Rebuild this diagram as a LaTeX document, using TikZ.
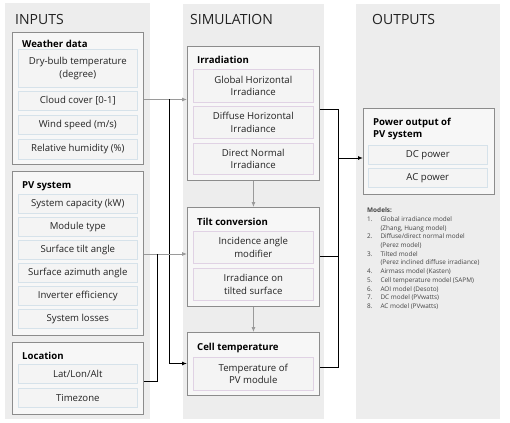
\documentclass[tikz,border=0pt]{standalone}
\usepackage{fontspec}
\setmainfont{Open Sans}
\usetikzlibrary{arrows.meta,calc}
\definecolor{panelbg}{HTML}{EDEDED}
\definecolor{boxline}{HTML}{8C8C8C}
\definecolor{boxfill}{HTML}{F7F7F7}
\definecolor{subin}{HTML}{D6E2EA}
\definecolor{subsim}{HTML}{E0D2E4}
\definecolor{subfill}{HTML}{F4F4F4}
\definecolor{grayline}{HTML}{9A9A9A}
\definecolor{txt}{HTML}{222222}
\definecolor{modtxt}{HTML}{444444}
\begin{document}
\begin{tikzpicture}[x=1pt,y=-1pt,
  panel/.style={fill=panelbg,draw=none},
  bigbox/.style={draw=boxline,fill=boxfill,line width=0.9pt,inner sep=0pt,anchor=north west},
  subbox/.style={draw=#1,fill=subfill,line width=0.6pt,inner sep=0pt,anchor=north west,
     align=center,font=\fontsize{9.6}{12.5}\selectfont,text=txt},
  lbl/.style={anchor=base west,inner sep=0pt,font=\fontsize{9.6}{11}\selectfont\bfseries,text=black},
  ttl/.style={anchor=base west,inner sep=0pt,font=\fontsize{14}{16}\selectfont,text=txt},
  grayarr/.style={draw=grayline,line width=0.8pt,-{Latex[length=5pt,width=4pt]}},
  blkline/.style={draw=black,line width=1pt},
  blkarr/.style={draw=black,line width=1pt,-{Latex[length=5pt,width=4pt]}}
]
\useasboundingbox[fill=white] (0,0) rectangle (510,422);
% panels
\fill[panel] (5,3) rectangle (150,419);
\fill[panel] (183,4) rectangle (324,419);
\fill[panel] (356,4) rectangle (500,419);
\node[ttl] (tin) at (15,25) {INPUTS};
\node[ttl] (tsim) at (190,25) {SIMULATION};
\node[ttl] (tout) at (372,25) {OUTPUTS};

% ---------- INPUTS ----------
\node[bigbox,minimum width=131pt,minimum height=132pt] (weather) at (12,32) {};
\node[lbl] (lw) at (22,48) {Weather data};
\node[subbox=subin,minimum width=119pt,minimum height=38pt] (dry) at (18,49) {Dry-bulb temperature\\(degree)};
\node[subbox=subin,minimum width=119pt,minimum height=19pt] (cloud) at (18,91) {Cloud cover [0-1]};
\node[subbox=subin,minimum width=119pt,minimum height=19pt] (wind) at (18,115) {Wind speed (m/s)};
\node[subbox=subin,minimum width=119pt,minimum height=20pt] (rh) at (18,139) {Relative humidity (\%)};

\node[bigbox,minimum width=131pt,minimum height=164pt] (pv) at (12,171) {};
\node[lbl] (lpv) at (22,188.5) {PV system};
\node[subbox=subin,minimum width=119pt,minimum height=19pt] (cap) at (18,194) {System capacity (kW)};
\node[subbox=subin,minimum width=119pt,minimum height=19pt] (mod) at (18,217) {Module type};
\node[subbox=subin,minimum width=119pt,minimum height=19pt] (tiltang) at (18,240) {Surface tilt angle};
\node[subbox=subin,minimum width=119pt,minimum height=19pt] (azi) at (18,263) {Surface azimuth angle};
\node[subbox=subin,minimum width=119pt,minimum height=19pt] (inv) at (18,286) {Inverter efficiency};
\node[subbox=subin,minimum width=119pt,minimum height=19pt] (loss) at (18,309) {System losses};

\node[bigbox,minimum width=131pt,minimum height=72pt] (loc) at (12,342) {};
\node[lbl] (lloc) at (22,359.5) {Location};
\node[subbox=subin,minimum width=119pt,minimum height=19pt] (lat) at (18,364) {Lat/Lon/Alt};
\node[subbox=subin,minimum width=119pt,minimum height=19pt] (tz) at (18,388) {Timezone};

% ---------- SIMULATION ----------
\node[bigbox,minimum width=132pt,minimum height=134pt] (irr) at (187,46) {};
\node[lbl] (lirr) at (197,64) {Irradiation};
\node[subbox=subsim,minimum width=120pt,minimum height=33pt] (ghi) at (193,69) {Global Horizontal\\Irradiance};
\node[subbox=subsim,minimum width=120pt,minimum height=32pt] (dhi) at (193,106) {Diffuse Horizontal\\Irradiance};
\node[subbox=subsim,minimum width=120pt,minimum height=31pt] (dni) at (193,143) {Direct Normal\\Irradiance};

\node[bigbox,minimum width=132pt,minimum height=99pt] (tilt) at (187,207) {};
\node[lbl] (ltilt) at (197,225) {Tilt conversion};
\node[subbox=subsim,minimum width=120pt,minimum height=32pt] (iam) at (193,231) {Incidence angle\\modifier};
\node[subbox=subsim,minimum width=120pt,minimum height=32pt] (tsurf) at (193,268) {Irradiance on\\tilted surface};

\node[bigbox,minimum width=132pt,minimum height=63pt] (cell) at (187,332) {};
\node[lbl] (lcell) at (197,350) {Cell temperature};
\node[subbox=subsim,minimum width=120pt,minimum height=33pt] (tmod) at (193,357) {Temperature of\\PV module};

% ---------- OUTPUTS ----------
\node[bigbox,minimum width=131pt,minimum height=86pt] (pow) at (363,108) {};
\node[lbl] (lpow1) at (373,126) {Power output of};
\node[lbl] (lpow2) at (373,137.5) {PV system};
\node[subbox=subin,minimum width=119pt,minimum height=19pt] (dc) at (368,145) {DC power};
\node[subbox=subin,minimum width=119pt,minimum height=19pt] (ac) at (368,168) {AC power};

\node[anchor=north west,inner sep=0pt,text=modtxt,font=\fontsize{6.4}{8.7}\selectfont] (models) at (367,206.5) {%
\begin{tabular}{@{}l@{\hspace{8pt}}l@{}}
\multicolumn{2}{@{}l}{\bfseries Models:}\\
1. & Global irradiance model\\
   & (Zhang, Huang model)\\
2. & Diffuse/direct normal model\\
   & (Perez model)\\
3. & Tilted model\\
   & (Perez inclined diffuse irradiance)\\
4. & Airmass model (Kasten)\\
5. & Cell temperature model (SAPM)\\
6. & AOI model (Desoto)\\
7. & DC model (PVwatts)\\
8. & AC model (PVwatts)
\end{tabular}};

% ---------- connectors ----------
\coordinate (j1) at (169,99.5);
\coordinate (j2) at (157,254);
\coordinate (j3) at (157,381);
\coordinate (j4) at (169,363.5);
\coordinate (b1) at (338,110);
\coordinate (b2) at (338,367);
\coordinate (b3) at (338,158);

\draw[grayarr] (weather.east |- j1) -- (irr.west |- j1);
\draw[blkarr] (j1) -- (j4) -- (cell.west |- j4);
\draw[grayarr] (pv.east |- j2) -- (tilt.west |- j2);
\draw[blkline] (loc.east |- j3) -- (j3) -- (j2);
\draw[grayarr] (irr.south) -- (tilt.north);
\draw[grayarr] (tilt.south) -- (cell.north);
\draw[blkline] (irr.east |- b1) -- (b1) -- (b2) -- (cell.east |- b2);
\draw[blkline] (tilt.east) -- (tilt.east -| b1);
\draw[blkarr] (b3) -- (pow.west |- b3);
\end{tikzpicture}
\end{document}
